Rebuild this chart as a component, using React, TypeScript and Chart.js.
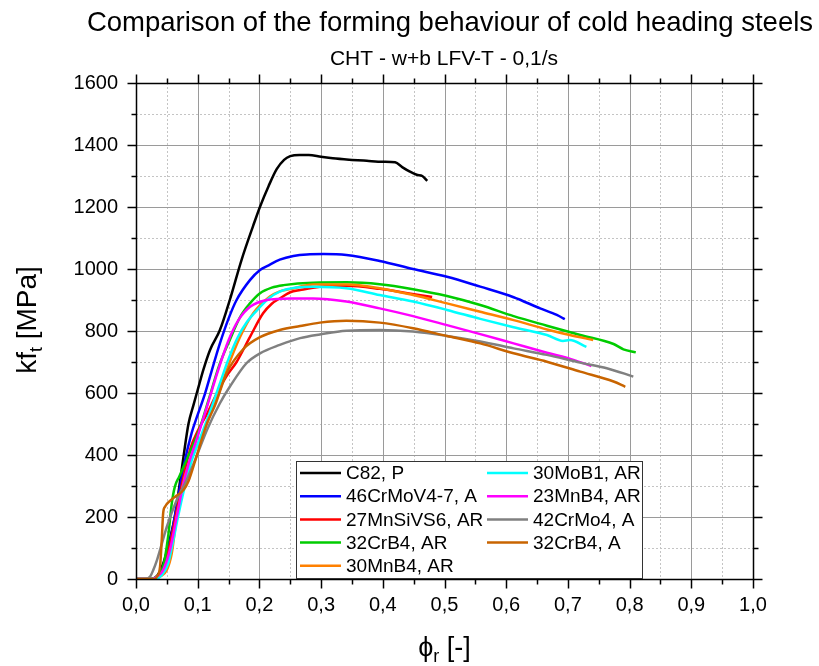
import React, { useEffect, useRef } from 'react';
import { Chart, registerables } from 'chart.js';

Chart.register(...registerables);

const FONT = '"Liberation Sans", Arial, Helvetica, sans-serif';

const TITLE = 'Comparison of the forming behaviour of cold heading steels';
const SUBTITLE = 'CHT - w+b LFV-T - 0,1/s';

const SERIES_LABELS = [
  'C82, P',
  '46CrMoV4-7, A',
  '27MnSiVS6, AR',
  '32CrB4, AR',
  '30MnB4, AR',
  '30MoB1, AR',
  '23MnB4, AR',
  '42CrMo4, A',
  '32CrB4, A',
];

const SERIES_COLORS = [
  '#000000',
  '#0000ff',
  '#ff0000',
  '#00cc00',
  '#ff8000',
  '#00ffff',
  '#ff00ff',
  '#808080',
  '#c86400',
];

// [phi_r, kf_t]
const C82_P: [number, number][] = [
  [0, 0], [0.025, 0], [0.035, 12], [0.045, 55], [0.055, 130], [0.063, 200], [0.07, 295],
  [0.077, 395], [0.085, 500], [0.093, 560], [0.1, 610], [0.109, 674], [0.12, 739],
  [0.136, 803], [0.152, 900], [0.171, 1029], [0.19, 1140], [0.201, 1201], [0.215, 1268],
  [0.228, 1322], [0.24, 1352], [0.25, 1364], [0.265, 1368], [0.28, 1368], [0.3, 1362],
  [0.319, 1357], [0.35, 1352], [0.374, 1349], [0.4, 1346], [0.42, 1344], [0.432, 1328],
  [0.444, 1314], [0.455, 1304], [0.464, 1300], [0.472, 1284],
];

const CRMOV_A: [number, number][] = [
  [0, 0], [0.028, 0], [0.038, 15], [0.048, 65], [0.058, 150], [0.068, 260], [0.078, 370],
  [0.09, 470], [0.1, 530], [0.112, 599], [0.123, 674], [0.136, 760], [0.15, 840],
  [0.163, 900], [0.185, 965], [0.201, 997], [0.215, 1012], [0.233, 1030], [0.255, 1042],
  [0.277, 1047], [0.304, 1048], [0.341, 1045], [0.395, 1026], [0.449, 1000], [0.504, 975],
  [0.558, 943], [0.612, 909], [0.655, 873], [0.682, 852], [0.695, 838],
];

const MNSIVS_AR: [number, number][] = [
  [0, 0], [0.027, 0], [0.037, 10], [0.047, 50], [0.057, 130], [0.067, 230], [0.077, 330],
  [0.088, 420], [0.101, 481], [0.117, 540], [0.131, 599], [0.147, 655], [0.163, 700],
  [0.185, 782], [0.206, 857], [0.22, 888], [0.233, 905], [0.25, 925], [0.266, 932],
  [0.298, 943], [0.341, 946], [0.395, 936], [0.44, 922], [0.48, 910],
];

const CRB4_AR: [number, number][] = [
  [0, 0], [0.022, 0], [0.034, 8], [0.044, 40], [0.052, 136], [0.058, 244], [0.063, 298],
  [0.07, 330], [0.082, 384], [0.092, 430], [0.104, 490], [0.118, 580], [0.135, 690],
  [0.152, 771], [0.169, 846], [0.185, 890], [0.201, 922], [0.22, 940], [0.239, 948],
  [0.287, 956], [0.341, 957], [0.395, 951], [0.449, 935], [0.504, 913], [0.558, 884],
  [0.612, 848], [0.666, 817], [0.72, 787], [0.774, 758], [0.79, 741], [0.81, 731],
];

const MNB4_30_AR: [number, number][] = [
  [0, 0], [0.03, 0], [0.039, 8], [0.05, 29], [0.058, 83], [0.066, 201], [0.071, 250],
  [0.079, 330], [0.096, 416], [0.115, 502], [0.123, 545], [0.136, 610], [0.147, 674],
  [0.169, 782], [0.19, 857], [0.217, 911], [0.233, 928], [0.25, 935], [0.287, 950],
  [0.341, 950], [0.395, 938], [0.449, 916], [0.504, 889], [0.558, 862], [0.612, 835],
  [0.666, 805], [0.703, 787], [0.741, 771],
];

const MOB1_AR: [number, number][] = [
  [0, 0], [0.03, 0], [0.042, 13], [0.052, 50], [0.06, 120], [0.068, 200], [0.078, 290],
  [0.09, 380], [0.105, 460], [0.12, 540], [0.135, 625], [0.15, 710], [0.165, 780],
  [0.18, 830], [0.2, 875], [0.215, 905], [0.233, 927], [0.26, 940], [0.287, 943],
  [0.341, 938], [0.395, 916], [0.449, 895], [0.504, 868], [0.558, 839], [0.612, 812],
  [0.666, 787], [0.692, 768], [0.703, 771], [0.73, 749],
];

const MNB4_23_AR: [number, number][] = [
  [0, 0], [0.025, 0], [0.035, 10], [0.044, 29], [0.055, 94], [0.065, 190], [0.075, 290],
  [0.085, 370], [0.1, 460], [0.115, 555], [0.131, 660], [0.15, 770], [0.166, 835],
  [0.185, 878], [0.212, 900], [0.25, 905], [0.287, 905], [0.341, 895], [0.395, 873],
  [0.449, 848], [0.504, 819], [0.558, 790], [0.612, 760], [0.666, 730], [0.709, 707],
  [0.738, 687],
];

const CRMO4_A: [number, number][] = [
  [0, 0], [0.015, 0], [0.023, 8], [0.028, 29], [0.034, 61], [0.042, 115], [0.05, 169],
  [0.066, 255], [0.082, 319], [0.098, 395], [0.115, 481], [0.136, 567], [0.152, 620],
  [0.179, 696], [0.201, 728], [0.233, 755], [0.266, 777], [0.298, 789], [0.341, 801],
  [0.395, 803], [0.449, 798], [0.504, 784], [0.558, 766], [0.612, 744], [0.666, 723],
  [0.72, 698], [0.763, 680], [0.806, 653],
];

const CRB4_A: [number, number][] = [
  [0, 0], [0.03, 0], [0.034, 8], [0.039, 40], [0.042, 136], [0.044, 212], [0.047, 233],
  [0.055, 252], [0.065, 268], [0.077, 287], [0.085, 315], [0.098, 395], [0.115, 502],
  [0.128, 560], [0.147, 665], [0.174, 742], [0.201, 780], [0.233, 803], [0.266, 816],
  [0.298, 827], [0.341, 833], [0.395, 827], [0.449, 809], [0.504, 784], [0.558, 760],
  [0.612, 728], [0.666, 701], [0.72, 669], [0.774, 637], [0.793, 620],
];

const SERIES_DATA = [
  C82_P, CRMOV_A, MNSIVS_AR, CRB4_AR, MNB4_30_AR, MOB1_AR, MNB4_23_AR, CRMO4_A, CRB4_A,
];

const X_MIN = 0;
const X_MAX = 1;
const X_STEP = 0.1;
const Y_MIN = 0;
const Y_MAX = 1600;
const Y_STEP = 200;

function line(ctx: CanvasRenderingContext2D, x1: number, y1: number, x2: number, y2: number) {
  ctx.beginPath();
  ctx.moveTo(x1, y1);
  ctx.lineTo(x2, y2);
  ctx.stroke();
}

const framePlugin = {
  id: 'frame',
  beforeDatasetsDraw(chart: any) {
    const { ctx, chartArea: a, scales } = chart;
    const x = scales.x;
    const y = scales.y;
    ctx.save();
    ctx.lineWidth = 1;
    // minor grid
    ctx.strokeStyle = '#c4c4c4';
    ctx.setLineDash([2, 2]);
    const nx = Math.round((X_MAX - X_MIN) / (X_STEP / 2));
    for (let i = 1; i < nx; i += 2) {
      const px = Math.round(x.getPixelForValue(X_MIN + (i * X_STEP) / 2)) + 0.5;
      line(ctx, px, a.top, px, a.bottom);
    }
    const ny = Math.round((Y_MAX - Y_MIN) / (Y_STEP / 2));
    for (let i = 1; i < ny; i += 2) {
      const py = Math.round(y.getPixelForValue(Y_MIN + (i * Y_STEP) / 2)) + 0.5;
      line(ctx, a.left, py, a.right, py);
    }
    // major grid
    ctx.setLineDash([]);
    ctx.strokeStyle = '#9a9a9a';
    for (let i = 2; i < nx; i += 2) {
      const px = Math.round(x.getPixelForValue(X_MIN + (i * X_STEP) / 2)) + 0.5;
      line(ctx, px, a.top, px, a.bottom);
    }
    for (let i = 2; i < ny; i += 2) {
      const py = Math.round(y.getPixelForValue(Y_MIN + (i * Y_STEP) / 2)) + 0.5;
      line(ctx, a.left, py, a.right, py);
    }
    ctx.restore();
  },
  afterDatasetsDraw(chart: any) {
    const { ctx, chartArea: a, scales } = chart;
    const x = scales.x;
    const y = scales.y;
    ctx.save();
    ctx.strokeStyle = '#000';
    ctx.lineWidth = 1.5;
    ctx.setLineDash([]);
    const L = Math.round(a.left) + 0.5;
    const R = Math.round(a.right) + 0.5;
    const T = Math.round(a.top) + 0.5;
    const B = Math.round(a.bottom) + 0.5;
    ctx.strokeRect(L, T, R - L, B - T);
    const nx = Math.round((X_MAX - X_MIN) / (X_STEP / 2));
    for (let i = 0; i <= nx; i++) {
      const px = Math.round(x.getPixelForValue(X_MIN + (i * X_STEP) / 2)) + 0.5;
      const len = i % 2 === 0 ? 9 : 5;
      line(ctx, px, B, px, B + len);
      line(ctx, px, T, px, T - len);
    }
    const ny = Math.round((Y_MAX - Y_MIN) / (Y_STEP / 2));
    for (let i = 0; i <= ny; i++) {
      const py = Math.round(y.getPixelForValue(Y_MIN + (i * Y_STEP) / 2)) + 0.5;
      const len = i % 2 === 0 ? 9 : 5;
      line(ctx, L, py, L - len, py);
      line(ctx, R, py, R + len, py);
    }

    // legend
    const lx = 296.5;
    const ly = 461.5;
    const lw = 346;
    const lh = 117;
    ctx.fillStyle = '#fff';
    ctx.fillRect(lx, ly, lw, lh);
    ctx.lineWidth = 1;
    ctx.strokeStyle = '#333';
    ctx.strokeRect(lx, ly, lw, lh);
    ctx.font = `19px ${FONT}`;
    ctx.textBaseline = 'middle';
    ctx.textAlign = 'left';
    const datasets = chart.data.datasets;
    datasets.forEach((ds: any, i: number) => {
      const col = i < 5 ? 0 : 1;
      const row = i < 5 ? i : i - 5;
      const x0 = col === 0 ? 300 : 487;
      const yy = 473 + row * 23.2;
      ctx.strokeStyle = ds.borderColor;
      ctx.lineWidth = 2.5;
      line(ctx, x0, yy, x0 + 41, yy);
      ctx.fillStyle = '#000';
      ctx.fillText(ds.label, x0 + 46, yy + 1);
    });
    ctx.restore();
  },
  afterDraw(chart: any) {
    const { ctx, chartArea: a } = chart;
    ctx.save();
    ctx.fillStyle = '#000';
    ctx.textBaseline = 'alphabetic';
    ctx.textAlign = 'center';
    ctx.font = `27.5px ${FONT}`;
    ctx.fillText(TITLE, 450, 31);
    ctx.font = `21px ${FONT}`;
    ctx.fillText(SUBTITLE, (a.left + a.right) / 2 - 0.5, 65);

    // x axis title: phi_r [-]
    const big = `27px ${FONT}`;
    const small = `18px ${FONT}`;
    ctx.textAlign = 'left';
    ctx.font = big;
    const w1 = ctx.measureText('\u03d5').width;
    const w3 = ctx.measureText(' [-]').width;
    ctx.font = small;
    const w2 = ctx.measureText('r').width;
    let xs = (a.left + a.right) / 2 - (w1 + w2 + w3) / 2;
    const yb = 656;
    ctx.font = big;
    ctx.fillText('\u03d5', xs, yb);
    xs += w1;
    ctx.font = small;
    ctx.fillText('r', xs, yb + 6);
    xs += w2;
    ctx.font = big;
    ctx.fillText(' [-]', xs, yb);

    // y axis title: kf_t [MPa]
    const bigY = `28px ${FONT}`;
    ctx.translate(36, 320);
    ctx.rotate(-Math.PI / 2);
    ctx.font = bigY;
    const v1 = ctx.measureText('kf').width;
    const v3 = ctx.measureText(' [MPa]').width;
    ctx.font = small;
    const v2 = ctx.measureText('t').width;
    let ys = -(v1 + v2 + v3) / 2;
    ctx.font = bigY;
    ctx.fillText('kf', ys, 0);
    ys += v1;
    ctx.font = small;
    ctx.fillText('t', ys, 6);
    ys += v2;
    ctx.font = bigY;
    ctx.fillText(' [MPa]', ys, 0);
    ctx.restore();
  },
};

export default function App() {
  const ref = useRef<HTMLCanvasElement | null>(null);

  useEffect(() => {
    if (!ref.current) return;
    const n = SERIES_DATA.length;
    const chart = new Chart(ref.current, {
      type: 'line',
      data: {
        datasets: SERIES_DATA.map((pts, i) => ({
          label: SERIES_LABELS[i],
          data: pts.map(([px, py]) => ({ x: px, y: py })),
          borderColor: SERIES_COLORS[i],
          backgroundColor: SERIES_COLORS[i],
          borderWidth: 2.5,
          pointRadius: 0,
          fill: false,
          order: n - i,
          cubicInterpolationMode: 'monotone',
        })),
      },
      options: {
        responsive: false,
        animation: false,
        devicePixelRatio: 1,
        layout: { padding: { top: 83, right: 66, left: 0, bottom: 0 } },
        plugins: {
          legend: { display: false },
          tooltip: { enabled: false },
          title: { display: false },
        },
        scales: {
          x: {
            type: 'linear',
            min: X_MIN,
            max: X_MAX,
            grid: { display: false, drawTicks: false },
            border: { display: false },
            ticks: {
              stepSize: X_STEP,
              padding: 14,
              color: '#000',
              maxRotation: 0,
              autoSkip: false,
              font: { family: FONT, size: 20 },
              callback: (v: any) => Number(v).toFixed(1).replace('.', ','),
            },
            afterFit: (s: any) => {
              s.height = 87;
            },
          },
          y: {
            type: 'linear',
            min: Y_MIN,
            max: Y_MAX,
            grid: { display: false, drawTicks: false },
            border: { display: false },
            ticks: {
              stepSize: Y_STEP,
              padding: 18,
              color: '#000',
              font: { family: FONT, size: 20 },
              callback: (v: any) => String(Math.round(Number(v))),
            },
            afterFit: (s: any) => {
              s.width = 136;
            },
          },
        },
      } as any,
      plugins: [framePlugin],
    });
    return () => chart.destroy();
  }, []);

  return (
    <div style={{ position: 'fixed', left: 0, top: 0, width: 819, height: 666, background: '#fff' }}>
      <canvas ref={ref} width={819} height={666} style={{ width: 819, height: 666, display: 'block' }} />
    </div>
  );
}
